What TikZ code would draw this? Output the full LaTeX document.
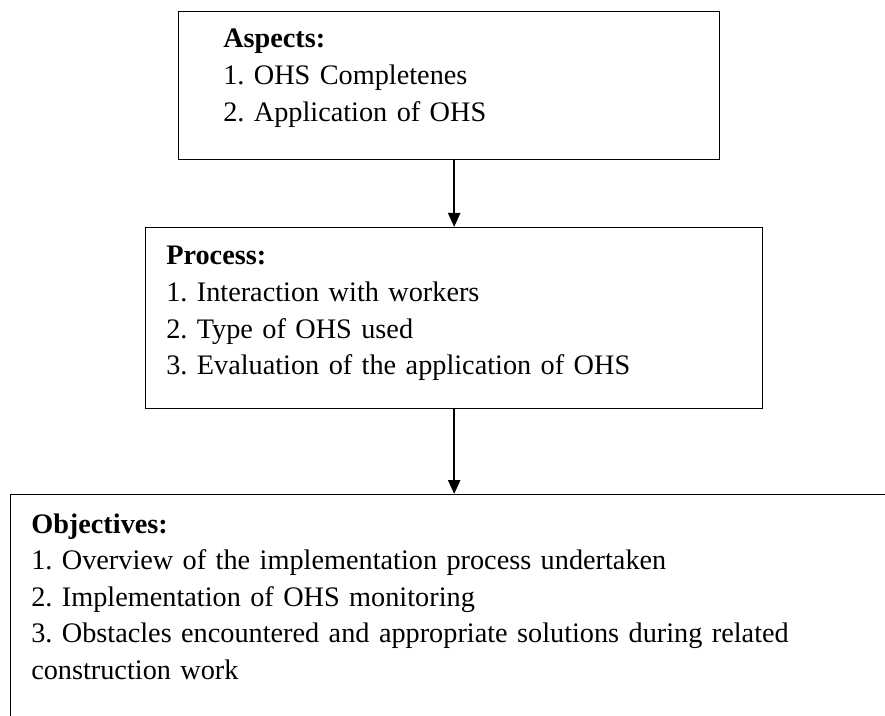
\documentclass[tikz,border=0pt]{standalone}
\usepackage{fontspec}
\setmainfont{Liberation Serif}
\usetikzlibrary{positioning,arrows.meta}
\frenchspacing

\begin{document}
\begin{tikzpicture}[x=0.75pt, y=-0.75pt,
  every node/.style={font=\fontsize{21.2}{27.4}\selectfont},
  box/.style={draw, line width=1pt, rectangle, anchor=north west, inner sep=0pt},
  txt/.style={anchor=base west, align=left, inner sep=0pt, text width=600pt},
  flow/.style={line width=1.7pt, -{Triangle[length=10.5pt,width=9pt]}}]
  %----- canvas -----
  \clip (0,0) rectangle (885,716);

  %----- boxes -----
  \node[box, minimum width=405.75pt, minimum height=111pt] (aspects) at (178,11) {};
  \node[box, minimum width=462.75pt, minimum height=135.75pt] (process) at (145,227) {};
  \node[box, minimum width=675pt, minimum height=180pt] (objectives) at (10,494) {};

  %----- texts -----
  \node[txt] (aspectstxt) at (223,48)
    {\textbf{Aspects:}\\1. OHS Completenes\\2. Application of OHS};
  \node[txt] (processtxt) at (166,265)
    {\textbf{Process:}\\1. Interaction with workers\\2. Type of OHS used\\3. Evaluation of the application of OHS};
  \node[txt] (objectivestxt) at (31,533)
    {\textbf{Objectives:}\\1. Overview of the implementation process undertaken\\2. Implementation of OHS monitoring\\3. Obstacles encountered and appropriate solutions during related\\construction work};

  %----- arrows -----
  \draw[flow] (process.north |- aspects.south) -- (process.north);
  \draw[flow] (process.south) -- (process.south |- objectives.north);
\end{tikzpicture}
\end{document}
